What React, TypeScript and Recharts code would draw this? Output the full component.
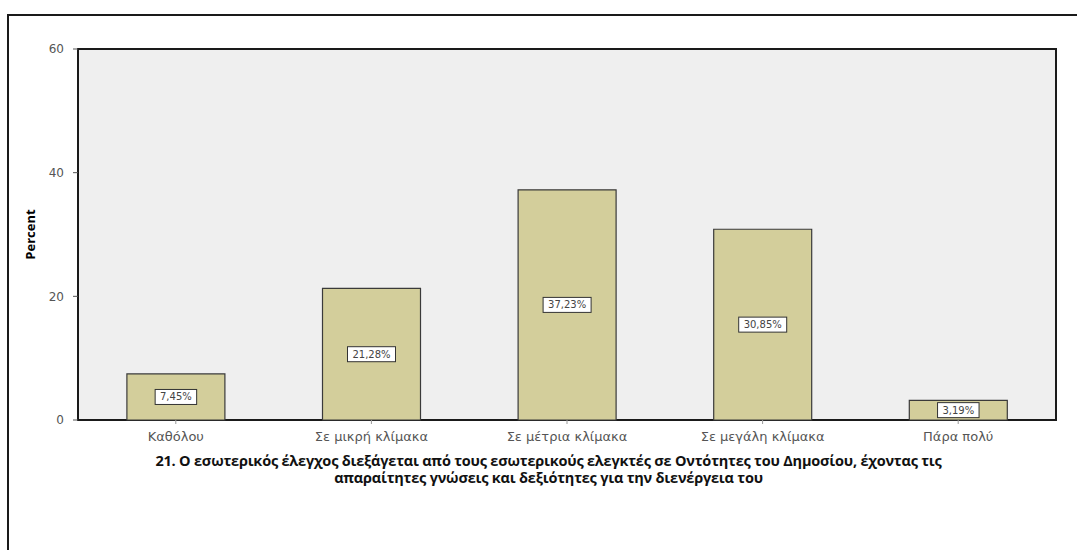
import { BarChart, Bar, XAxis, YAxis, LabelList, ReferenceArea } from "recharts";

const categories = [
  "Καθόλου",
  "Σε μικρή κλίμακα",
  "Σε μέτρια κλίμακα",
  "Σε μεγάλη κλίμακα",
  "Πάρα πολύ",
];
const percents = [7.45, 21.28, 37.23, 30.85, 3.19];
const yTicks = [0, 20, 40, 60];

const title =
  "21. Ο εσωτερικός έλεγχος διεξάγεται από τους εσωτερικούς ελεγκτές σε Οντότητες του Δημοσίου, έχοντας τις";
const titleLine2 = "απαραίτητες γνώσεις και δεξιότητες για την διενέργεια του";

const data = categories.map((name, i) => ({ name, value: percents[i] }));

const fmt = (v: number) => v.toFixed(2).replace(".", ",") + "%";

// white boxed value label in the middle of each bar
const ValueBox = (props: any) => {
  const { x, y, width, height, value } = props;
  const cx = x + width / 2;
  const cy = y + height / 2;
  const text = fmt(value);
  const w = text.length * 6.5 + 9;
  return (
    <g>
      <rect
        x={cx - w / 2}
        y={cy - 7.5}
        width={w}
        height={15}
        fill="#fff"
        stroke="#333"
        strokeWidth={1}
      />
      <text
        x={cx}
        y={cy + 3.5}
        textAnchor="middle"
        fontSize={10}
        fill="#444"
        fontFamily="DejaVu Sans"
      >
        {text}
      </text>
    </g>
  );
};

export default function App() {
  return (
    <div
      style={{
        position: "absolute",
        left: 0,
        top: 0,
        width: 1077,
        height: 550,
        background: "#fff",
        overflow: "hidden",
      }}
    >
      <div
        style={{
          position: "absolute",
          left: 7,
          top: 14,
          width: 1100,
          height: 600,
          borderLeft: "2px solid #1a1a1a",
          borderTop: "2px solid #1a1a1a",
        }}
      />
      <div style={{ position: "absolute", left: 0, top: 0 }}>
        <BarChart
          width={1077}
          height={550}
          data={data}
          margin={{ top: 49, right: 21, bottom: 100, left: 38 }}
          barCategoryGap="25%"
        >
          <ReferenceArea
            y1={0}
            y2={60}
            fill="#efefef"
            fillOpacity={1}
            stroke="#1a1a1a"
            strokeWidth={2}
          />
          <XAxis
            dataKey="name"
            height={30}
            axisLine={false}
            tickLine={{ stroke: "#999" }}
            tickSize={4}
            tick={{ fill: "#555", fontSize: 13, fontFamily: "DejaVu Sans" }}
            tickMargin={8}
          />
          <YAxis
            width={40}
            domain={[0, 60]}
            ticks={yTicks}
            axisLine={false}
            tickLine={{ stroke: "#555" }}
            tickSize={5}
            tickMargin={9}
            tick={{ fill: "#555", fontSize: 12, fontFamily: "DejaVu Sans" }}
            label={{
              value: "Percent",
              angle: -90,
              position: "insideLeft",
              offset: -8,
              style: {
                fill: "#000",
                fontSize: 13,
                fontWeight: "bold",
                fontFamily: "Liberation Sans Narrow, Open Sans",
                textAnchor: "middle",
              },
            }}
          />
          <Bar
            dataKey="value"
            fill="#d3ce9b"
            stroke="#3a3a3a"
            strokeWidth={1.2}
            isAnimationActive={false}
          >
            <LabelList dataKey="value" content={<ValueBox />} />
          </Bar>
        </BarChart>
      </div>
      <div
        style={{
          position: "absolute",
          left: 0,
          width: 1097,
          top: 452,
          textAlign: "center",
          fontFamily: "Open Sans",
          fontWeight: "bold",
          fontSize: 14.5,
          lineHeight: "17px",
          color: "#111",
          letterSpacing: -0.2,
        }}
      >
        <div>{title}</div>
        <div>{titleLine2}</div>
      </div>
    </div>
  );
}
